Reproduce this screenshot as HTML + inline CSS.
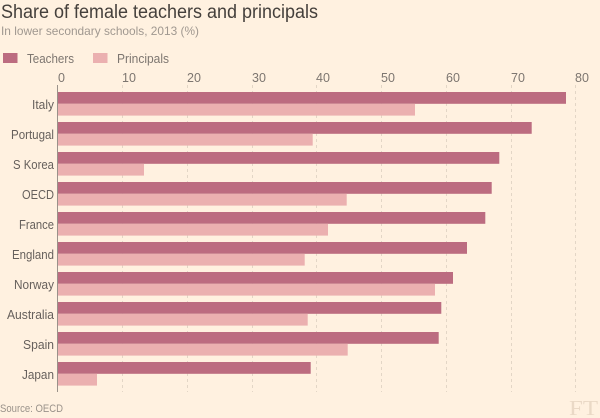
<!DOCTYPE html>
<html><head><meta charset="utf-8"><style>
html,body{margin:0;padding:0;background:#fff1e0;}
svg{display:block;font-family:"Liberation Sans",sans-serif;}
</style></head><body>
<svg width="600" height="418" viewBox="0 0 600 418" xmlns="http://www.w3.org/2000/svg">
<rect width="600" height="418" fill="#fff1e0"/>
<text x="1" y="18" font-size="19" fill="#45403c" textLength="317" lengthAdjust="spacingAndGlyphs">Share of female teachers and principals</text>
<text x="1" y="35" font-size="12" fill="#a09890" textLength="198" lengthAdjust="spacingAndGlyphs">In lower secondary schools, 2013 (%)</text>
<rect x="3" y="53" width="14.5" height="10" fill="#bc6c80"/>
<text x="27" y="63" font-size="12.5" fill="#7d7670" textLength="47" lengthAdjust="spacingAndGlyphs">Teachers</text>
<rect x="93" y="53" width="14.5" height="10" fill="#ebb0b0"/>
<text x="117" y="63" font-size="12.5" fill="#7d7670" textLength="52" lengthAdjust="spacingAndGlyphs">Principals</text>
<g stroke="#e3d6c6" stroke-width="1" stroke-dasharray="3,3">
<line x1="122.5" y1="85" x2="122.5" y2="392"/>
<line x1="187.5" y1="85" x2="187.5" y2="392"/>
<line x1="252.5" y1="85" x2="252.5" y2="392"/>
<line x1="316.5" y1="85" x2="316.5" y2="392"/>
<line x1="381.5" y1="85" x2="381.5" y2="392"/>
<line x1="446.5" y1="85" x2="446.5" y2="392"/>
<line x1="511.5" y1="85" x2="511.5" y2="392"/>
<line x1="575.5" y1="85" x2="575.5" y2="392"/>
</g>
<g font-size="12.5" fill="#7d7670">
<text x="58" y="82">0</text>
<text x="122" y="82">10</text>
<text x="187" y="82">20</text>
<text x="252" y="82">30</text>
<text x="316" y="82">40</text>
<text x="381" y="82">50</text>
<text x="446" y="82">60</text>
<text x="511" y="82">70</text>
<text x="575" y="82">80</text>
</g>
<g fill="#bc6c80">
<rect x="58" y="92" width="508" height="11.8"/>
<rect x="58" y="122" width="473.7" height="11.8"/>
<rect x="58" y="152" width="441.3" height="11.8"/>
<rect x="58" y="182" width="433.7" height="11.8"/>
<rect x="58" y="212" width="427.3" height="11.8"/>
<rect x="58" y="242" width="409" height="11.8"/>
<rect x="58" y="272" width="395" height="11.8"/>
<rect x="58" y="302" width="383.3" height="11.8"/>
<rect x="58" y="332" width="380.7" height="11.8"/>
<rect x="58" y="362" width="252.7" height="11.8"/>
</g>
<g fill="#ebb0b0">
<rect x="58" y="103.8" width="357" height="11.8"/>
<rect x="58" y="133.8" width="254.7" height="11.8"/>
<rect x="58" y="163.8" width="86" height="11.8"/>
<rect x="58" y="193.8" width="288.7" height="11.8"/>
<rect x="58" y="223.8" width="270" height="11.8"/>
<rect x="58" y="253.8" width="246.7" height="11.8"/>
<rect x="58" y="283.8" width="377" height="11.8"/>
<rect x="58" y="313.8" width="249.7" height="11.8"/>
<rect x="58" y="343.8" width="289.7" height="11.8"/>
<rect x="58" y="373.8" width="39" height="11.8"/>
</g>
<line x1="57.5" y1="85" x2="57.5" y2="392" stroke="#9a928a" stroke-width="1"/>
<g font-size="13" fill="#66605c" text-anchor="end">
<text x="54" y="109" textLength="22" lengthAdjust="spacingAndGlyphs">Italy</text>
<text x="54" y="139" textLength="43" lengthAdjust="spacingAndGlyphs">Portugal</text>
<text x="54" y="169" textLength="41" lengthAdjust="spacingAndGlyphs">S Korea</text>
<text x="54" y="199" textLength="32" lengthAdjust="spacingAndGlyphs">OECD</text>
<text x="54" y="229" textLength="35" lengthAdjust="spacingAndGlyphs">France</text>
<text x="54" y="259" textLength="42" lengthAdjust="spacingAndGlyphs">England</text>
<text x="54" y="289" textLength="40" lengthAdjust="spacingAndGlyphs">Norway</text>
<text x="54" y="319" textLength="47" lengthAdjust="spacingAndGlyphs">Australia</text>
<text x="54" y="349" textLength="31" lengthAdjust="spacingAndGlyphs">Spain</text>
<text x="54" y="379" textLength="32" lengthAdjust="spacingAndGlyphs">Japan</text>
</g>
<text x="0" y="412" font-size="11" fill="#9a928a" textLength="63" lengthAdjust="spacingAndGlyphs">Source: OECD</text>
<text x="569" y="415" font-size="21" font-family="Liberation Serif,serif" fill="#ead9c6" textLength="29" lengthAdjust="spacingAndGlyphs">FT</text>
</svg>
</body></html>
